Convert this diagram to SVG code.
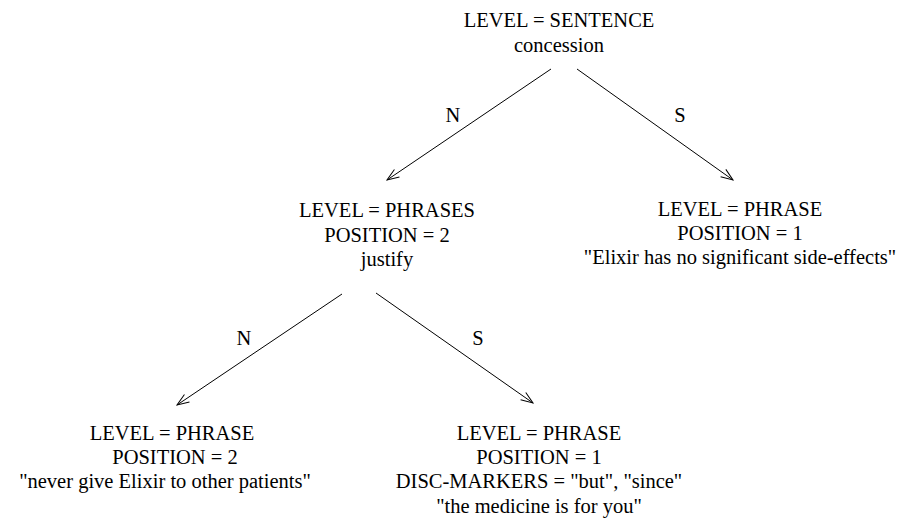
<svg xmlns="http://www.w3.org/2000/svg" width="914" height="520" viewBox="0 0 914 520">
<defs>
<style>
text{font-family:"Liberation Serif","Times New Roman",serif;font-size:20.5px;fill:#000;text-anchor:middle}
.edge{stroke:#000;stroke-width:1;fill:none;marker-end:url(#arr)}
</style>
<marker id="arr" viewBox="-13 -6 14 12" refX="0" refY="0" markerWidth="14" markerHeight="12" markerUnits="userSpaceOnUse" orient="auto">
<path d="M-12,-4.5 L0,0 L-12,4.5" fill="none" stroke="#000" stroke-width="1"/>
</marker>
</defs>
<rect width="914" height="520" fill="#fff"/>
<g id="connectors">
<line class="edge" x1="551" y1="69" x2="387" y2="180"/>
<line class="edge" x1="577" y1="69" x2="733" y2="180"/>
<line class="edge" x1="342" y1="294" x2="177" y2="405"/>
<line class="edge" x1="376" y1="293" x2="533" y2="403"/>
<text x="453" y="122">N</text>
<text x="680" y="122">S</text>
<text x="244" y="345">N</text>
<text x="478" y="345">S</text>
</g>
<g id="root">
<text x="559" y="27">LEVEL = SENTENCE</text>
<text x="559" y="52">concession</text>
</g>
<g id="justify">
<text x="387" y="217">LEVEL = PHRASES</text>
<text x="387" y="242">POSITION = 2</text>
<text x="387" y="266">justify</text>
</g>
<g id="elixir">
<text x="740" y="216">LEVEL = PHRASE</text>
<text x="740" y="240">POSITION = 1</text>
<text x="740" y="264">"Elixir has no significant side-effects"</text>
</g>
<g id="never">
<text x="172" y="440">LEVEL = PHRASE</text>
<text x="175" y="464">POSITION = 2</text>
<text x="165" y="488">"never give Elixir to other patients"</text>
</g>
<g id="medicine">
<text x="539" y="440">LEVEL = PHRASE</text>
<text x="539" y="464">POSITION = 1</text>
<text x="539" y="488">DISC-MARKERS = "but", "since"</text>
<text x="539" y="513">"the medicine is for you"</text>
</g>
</svg>
